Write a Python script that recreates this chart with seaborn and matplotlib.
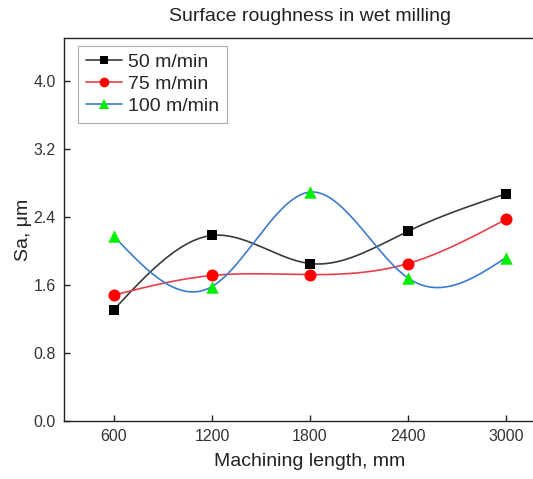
import numpy as np
import pandas as pd
import matplotlib
matplotlib.use("Agg")
import matplotlib.pyplot as plt
from matplotlib.lines import Line2D
import seaborn as sns

# Machining length (mm) and measured areal roughness Sa (um)
lengths = [600, 1200, 1800, 2400, 3000]
sa_50 = [1.31, 2.18, 1.85, 2.23, 2.67]
sa_75 = [1.48, 1.71, 1.72, 1.85, 2.37]
sa_100 = [2.17, 1.58, 2.69, 1.68, 1.92]
speeds = ["50 m/min", "75 m/min", "100 m/min"]
x_ticks = [600, 1200, 1800, 2400, 3000]
y_ticks = [0.0, 0.8, 1.6, 2.4, 3.2, 4.0]

sns.set_style("white")
plt.rcParams["font.family"] = ["Liberation Sans", "DejaVu Sans"]


def natural_spline(x, y, n=300):
    """Natural cubic spline through (x, y) for a smooth connecting curve."""
    x = np.asarray(x, float)
    y = np.asarray(y, float)
    k = len(x)
    h = np.diff(x)
    A = np.zeros((k, k))
    b = np.zeros(k)
    A[0, 0] = A[-1, -1] = 1.0
    for i in range(1, k - 1):
        A[i, i - 1] = h[i - 1]
        A[i, i] = 2 * (h[i - 1] + h[i])
        A[i, i + 1] = h[i]
        b[i] = 3 * ((y[i + 1] - y[i]) / h[i] - (y[i] - y[i - 1]) / h[i - 1])
    c = np.linalg.solve(A, b)
    xs = np.linspace(x[0], x[-1], n)
    idx = np.clip(np.searchsorted(x, xs) - 1, 0, k - 2)
    dx = xs - x[idx]
    bb = (y[idx + 1] - y[idx]) / h[idx] - h[idx] * (2 * c[idx] + c[idx + 1]) / 3
    dd = (c[idx + 1] - c[idx]) / (3 * h[idx])
    ys = y[idx] + bb * dx + c[idx] * dx ** 2 + dd * dx ** 3
    return xs, ys


df = pd.DataFrame({
    "length": lengths * 3,
    "Sa": sa_50 + sa_75 + sa_100,
    "speed": [speeds[0]] * 5 + [speeds[1]] * 5 + [speeds[2]] * 5,
})

line_colors = {speeds[0]: "#3a3a3a", speeds[1]: "#e8404a", speeds[2]: "#3b7bcf"}
mark_colors = {speeds[0]: "#000000", speeds[1]: "#ff0000", speeds[2]: "#00ee00"}
markers = {speeds[0]: "s", speeds[1]: "o", speeds[2]: "^"}
msizes = {speeds[0]: 55, speeds[1]: 75, speeds[2]: 80}
leg_msizes = {speeds[0]: 6, speeds[1]: 7, speeds[2]: 7.5}

fig = plt.figure(figsize=(5.33, 4.79), dpi=100)
ax = fig.add_axes([64 / 533, 58 / 479, 492 / 533, 383 / 479])

handles = []
for sp in speeds:
    sub = df[df["speed"] == sp]
    xs, ys = natural_spline(sub["length"], sub["Sa"])
    ax.plot(xs, ys, color=line_colors[sp], lw=1.2, zorder=2)
    sns.scatterplot(data=sub, x="length", y="Sa", ax=ax, marker=markers[sp],
                    color=mark_colors[sp], s=msizes[sp], linewidth=0, zorder=3,
                    legend=False)
    handles.append(Line2D([0], [0], color=line_colors[sp], lw=1.2,
                          marker=markers[sp], markerfacecolor=mark_colors[sp],
                          markeredgewidth=0, markersize=leg_msizes[sp],
                          label=sp))

ax.set_xlim(294, 3306)
ax.set_ylim(0, 4.5)
ax.set_xticks(x_ticks)
ax.set_yticks(y_ticks)
ax.set_yticklabels([f"{v:.1f}" for v in y_ticks])
ax.tick_params(direction="in", length=4, width=1, labelsize=11.5,
               colors="#222222", labelcolor="#333333",
               bottom=True, left=True, top=False, right=False, pad=6)
for s in ax.spines.values():
    s.set_color("#222222")
    s.set_linewidth(1.0)

ax.set_xlabel("Machining length, mm", fontsize=14, color="#222222", labelpad=6)
ax.set_ylabel("Sa, \u03bcm", fontsize=14, color="#222222", labelpad=1)
ax.set_title("Surface roughness in wet milling", fontsize=14, color="#222222", pad=12)

leg = ax.legend(handles=handles, loc="upper left", bbox_to_anchor=(0.02, 0.99),
                fontsize=14, frameon=True, fancybox=False, handlelength=1.9,
                handletextpad=0.3, borderpad=0.4, labelspacing=0.22,
                borderaxespad=0.2)
leg.get_frame().set_edgecolor("#999999")
leg.get_frame().set_linewidth(0.8)

fig.savefig("out.png", dpi=100)
